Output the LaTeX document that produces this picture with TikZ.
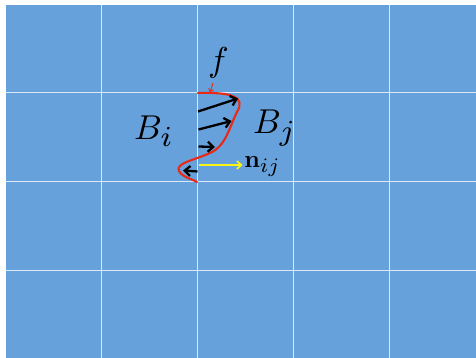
\documentclass[tikz,border=0pt]{standalone}
\usetikzlibrary{arrows.meta}
\definecolor{cellblue}{RGB}{102,161,220}
\definecolor{gridline}{RGB}{220,232,245}
\definecolor{curvered}{RGB}{235,40,20}
\definecolor{nyellow}{RGB}{250,245,20}
\tikzset{
  gridstyle/.style={draw=gridline, line width=0.8pt},
  flux/.style={draw=black, line width=2.3pt, -{Straight Barb[length=5.5pt,width=10pt,line width=2.3pt]}},
  bigmath/.style={scale=3.45, inner sep=0pt},
  smallmath/.style={scale=2.45, inner sep=0pt},
}
\newcommand{\bigsub}[1]{_{\mbox{\scalebox{1.2}{$\scriptstyle #1$}}}}
\begin{document}
\begin{tikzpicture}[x=1pt,y=-1pt]
\useasboundingbox (0,0) rectangle (476,358);
\fill[white] (0,0) rectangle (476,358);
\fill[cellblue] (6,5) rectangle (476,358);
\foreach \x in {101.7,197.7,293.7,389.7} \draw[gridstyle] (\x,5) -- (\x,358);
\foreach \y in {92.7,181.3,270} \draw[gridstyle] (6,\y) -- (476,\y);
% interface curve
\draw[curvered, line width=2.1pt, line cap=round] (198,93) .. controls (232,92) and (246,97) .. (237,112)
  .. controls (229,128) and (226,146) .. (210,153)
  .. controls (195,160) and (175,163) .. (179,171)
  .. controls (182,177) and (192,179) .. (197,182);
% flux arrows
\coordinate (a1s) at (198,111.5); \coordinate (a1e) at (238,98.5);
\coordinate (a2s) at (198.5,129.5); \coordinate (a2e) at (231.5,121);
\coordinate (a3s) at (198.5,146.5); \coordinate (a3e) at (215,147);
\coordinate (a4s) at (197.5,171.5); \coordinate (a4e) at (183,170.5);
\draw[flux] (a1s) -- (a1e);
\draw[flux] (a2s) -- (a2e);
\draw[flux] (a3s) -- (a3e);
\draw[flux] (a4s) -- (a4e);
% normal
\coordinate (ns) at (199,165);
\node[smallmath, anchor=base west] (nij) at (243.8,167.3) {$\mathbf{n}\bigsub{ij}$};
\coordinate (ne) at (242.5,165);
\draw[nyellow, line width=1.6pt, -{Straight Barb[length=4.5pt,width=8pt,line width=1.6pt]}] (ns) -- (ne);
% labels
\node[bigmath, anchor=base west] (Bi) at (133.5,139.3) {$B\bigsub{i}$};
\node[bigmath, anchor=base west] (Bj) at (252.5,133.3) {$B\bigsub{j}$};
\node[bigmath, anchor=base] (f) at (218.5,71.7) {$f$};
\coordinate (fa) at (210,92.5);
\draw[curvered, line width=0.9pt, -{Straight Barb[length=3pt,width=5pt]}] (213,83) -- (fa);
\end{tikzpicture}
\end{document}
